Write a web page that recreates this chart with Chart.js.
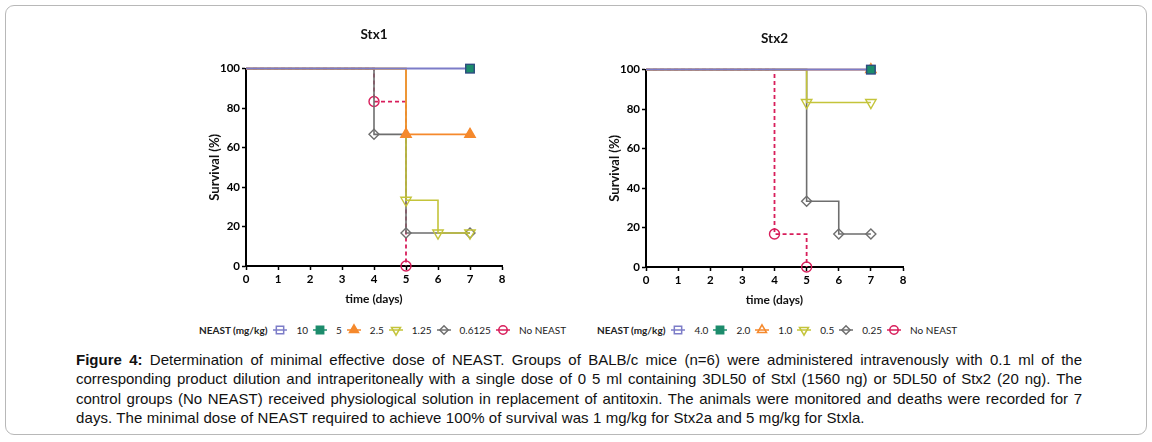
<!DOCTYPE html>
<html>
<head>
<meta charset="utf-8">
<script src="https://cdn.jsdelivr.net/npm/chart.js@4.4.1/dist/chart.umd.min.js"></script>
<style>
  html, body { margin: 0; padding: 0; background: #fff; }
  body { width: 1152px; height: 442px; position: relative; overflow: hidden; font-family: Lato, sans-serif; }
  .frame { position: absolute; left: 5px; top: 5px; width: 1140px; height: 428px; border: 1.5px solid #b8b8b8; border-radius: 9px; }
  .box { position: absolute; height: 295px; }
  #box1 { left: 190px; top: 15px; width: 330px; }
  #box2 { left: 590px; top: 16px; width: 331px; }
  .legend { position: absolute; top: 322px; height: 16px; display: flex; align-items: center; font-size: 10px; color: #222; white-space: nowrap; }
  #legend1 { left: 199px; }
  #legend2 { left: 597px; }
  .legend b { font-weight: bold; margin-right: 6px; }
  .legend span { margin-left: 9px; margin-right: 5px; }
  .caption { position: absolute; left: 76px; top: 350px; width: 1006px; font-family: "Liberation Sans", Arial, sans-serif; font-size: 15px; line-height: 19.4px; color: #111; }
  .caption div { text-align: justify; text-align-last: justify; white-space: nowrap; }
  .caption div.last { text-align-last: left; letter-spacing: 0.1px; }
</style>
</head>
<body>
<div class="frame"></div>
<div class="box" id="box1"><canvas id="chart1"></canvas></div>
<div class="box" id="box2"><canvas id="chart2"></canvas></div>
<div class="legend" id="legend1"></div>
<div class="legend" id="legend2"></div>
<div class="caption">
  <div><b>Figure 4:</b> Determination of minimal effective dose of NEAST. Groups of BALB/c mice (n=6) were administered intravenously with 0.1 ml of the</div>
  <div>corresponding product dilution and intraperitoneally with a single dose of 0 5 ml containing 3DL50 of Stxl (1560 ng) or 5DL50 of Stx2 (20 ng). The</div>
  <div>control groups (No NEAST) received physiological solution in replacement of antitoxin. The animals were monitored and deaths were recorded for 7</div>
  <div class="last">days. The minimal dose of NEAST required to achieve 100% of survival was 1 mg/kg for Stx2a and 5 mg/kg for Stxla.</div>
</div>
<script>
// Kaplan-Meier survival data
const legendTitle = 'NEAST (mg/kg)';
const xTicks = [0, 1, 2, 3, 4, 5, 6, 7, 8];
const yTicks = [0, 20, 40, 60, 80, 100];

// Stx1
const stx1Doses = ['10', '5', '2.5', '1.25', '0.6125', 'No NEAST'];
const stx1Times = [[0, 7], [7], [0, 5, 7], [0, 5, 6, 7], [0, 4, 5, 7], [0, 4, 5]];
const stx1Survival = [[100, 100], [100], [100, 66.7, 66.7], [100, 33.3, 16.7, 16.7], [100, 66.7, 16.7, 16.7], [100, 83.3, 0]];

// Stx2
const stx2Doses = ['4.0', '2.0', '1.0', '0.5', '0.25', 'No NEAST'];
const stx2Times = [[0, 7], [7], [0, 7], [0, 5, 7], [0, 5, 6, 7], [0, 4, 5]];
const stx2Survival = [[100, 100], [100], [100, 100], [100, 83.3, 83.3], [100, 33.3, 16.7, 16.7], [100, 16.7, 0]];

// series styles (same order as the doses)
const lineColors = ['#7c7cc8', '#1c8c6c', '#f5892c', '#c4c43a', '#6e6e6e', '#d81e5b'];
const lineWidths = [2, 1.6, 1.6, 1.6, 1.6, 1.8];
const markerStyles = ['rect', 'rect', 'triangle', 'triangle', 'rectRot', 'circle'];
const markerRotation = [0, 0, 0, 180, 0, 0];
const markerRadius = [6, 6, 6, 6, 5, 5];
// lower value is painted on top
const drawOrder = [1, 0, 2, 3, 4, 5];
const stx1Filled = [false, true, true, false, false, false];
const stx2Filled = [false, true, false, false, false, false];

const BOLD = { family: 'Lato', weight: 'bold' };

function makeDatasets(times, survival, filled) {
  return times.map((t, i) => ({
    label: i,
    data: t.map((x, j) => ({ x: x, y: survival[i][j] })),
    stepped: 'before',
    borderColor: lineColors[i],
    borderWidth: lineWidths[i],
    borderDash: i === 5 ? [4, 3] : [],
    showLine: i !== 1,
    pointStyle: markerStyles[i],
    pointRotation: markerRotation[i],
    pointRadius: c => (c.raw && c.raw.x === 0 ? 0 : markerRadius[i]),
    pointBorderColor: i === 1 ? '#2c4f7c' : lineColors[i],
    pointBackgroundColor: filled[i] ? lineColors[i] : 'rgba(255,255,255,0)',
    pointBorderWidth: 1.4,
    pointHoverRadius: 0,
    fill: false,
    clip: false,
    order: drawOrder[i]
  }));
}

function axis(ticks, extra) {
  return Object.assign({
    type: 'linear',
    min: ticks[0],
    max: ticks[ticks.length - 1],
    afterBuildTicks: s => { s.ticks = ticks.map(v => ({ value: v })); },
    ticks: { color: '#000', font: Object.assign({ size: 11.5 }, BOLD), padding: 2 },
    grid: { drawOnChartArea: false, drawTicks: true, tickLength: 4, tickColor: '#000', tickWidth: 1.5 },
    border: { color: '#000', width: 2 }
  }, extra);
}

function buildChart(id, title, titlePad, times, survival, filled) {
  return new Chart(document.getElementById(id), {
    type: 'line',
    data: { datasets: makeDatasets(times, survival, filled) },
    options: {
      responsive: true,
      maintainAspectRatio: false,
      animation: false,
      events: [],
      layout: { padding: { left: 0, right: 18, top: 0, bottom: 0 } },
      plugins: {
        legend: { display: false },
        tooltip: { enabled: false },
        title: { display: true, fullSize: false, text: title, color: '#111', font: Object.assign({ size: 13.5 }, BOLD), padding: titlePad }
      },
      scales: {
        x: axis(xTicks, {
          title: { display: true, text: 'time (days)', color: '#111', font: Object.assign({ size: 12 }, BOLD), padding: { top: 2, bottom: 4 } },
          afterFit: s => { s.height = 44; }
        }),
        y: axis(yTicks, {
          title: { display: true, text: 'Survival (%)', color: '#111', font: Object.assign({ size: 13 }, BOLD), padding: { top: 17, bottom: 2 } },
          afterFit: s => { s.width = 56; }
        })
      }
    }
  });
}

function drawIcon(i, filled) {
  const c = document.createElement('canvas');
  c.width = 14; c.height = 14;
  const ctx = c.getContext('2d');
  ctx.strokeStyle = lineColors[i];
  ctx.lineWidth = 1.5;
  ctx.beginPath(); ctx.moveTo(0, 7); ctx.lineTo(14, 7); ctx.stroke();
  ctx.fillStyle = filled[i] ? lineColors[i] : 'rgba(255,255,255,0)';
  ctx.strokeStyle = lineColors[i];
  Chart.helpers.drawPoint(ctx, { pointStyle: markerStyles[i], rotation: markerRotation[i], radius: markerRadius[i] - 0.8, borderWidth: 1.4 }, 7, 7);
  return c;
}

function buildLegend(id, doses, filled) {
  const el = document.getElementById(id);
  const b = document.createElement('b');
  b.textContent = legendTitle;
  el.appendChild(b);
  doses.forEach((d, i) => {
    el.appendChild(drawIcon(i, filled));
    const s = document.createElement('span');
    s.textContent = d;
    el.appendChild(s);
  });
}

buildChart('chart1', 'Stx1', { top: 12, bottom: 25.4 }, stx1Times, stx1Survival, stx1Filled);
buildChart('chart2', 'Stx2', { top: 15, bottom: 22.4 }, stx2Times, stx2Survival, stx2Filled);
buildLegend('legend1', stx1Doses, stx1Filled);
buildLegend('legend2', stx2Doses, stx2Filled);
</script>
</body>
</html>
